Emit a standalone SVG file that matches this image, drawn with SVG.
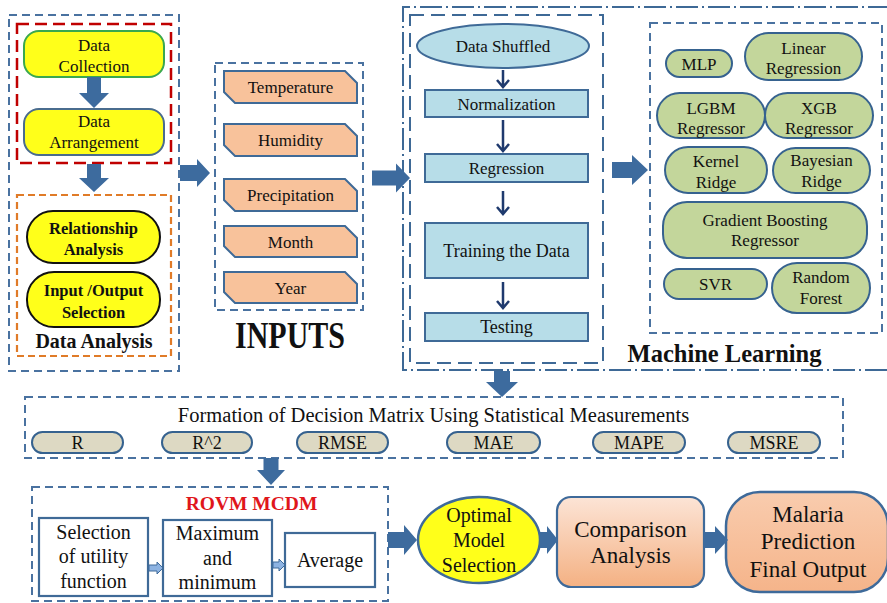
<svg xmlns="http://www.w3.org/2000/svg" width="887" height="603" viewBox="0 0 887 603" font-family="'Liberation Serif', 'Times New Roman', 'DejaVu Serif', serif">
  <defs>
    <linearGradient id="peach" x1="0" y1="0" x2="0" y2="1">
      <stop offset="0" stop-color="#FCE4D6"/>
      <stop offset="1" stop-color="#F4B183"/>
    </linearGradient>
    <linearGradient id="peach2" x1="0" y1="0" x2="0" y2="1">
      <stop offset="0" stop-color="#F9CCAE"/>
      <stop offset="1" stop-color="#F5B48A"/>
    </linearGradient>
  </defs>
  <style>
    text { font-family: 'Liberation Serif', 'Times New Roman', 'DejaVu Serif', serif; fill: #111; text-anchor: middle; }
    .dash-blue { fill: none; stroke: #4A72A0; stroke-width: 2; stroke-dasharray: 8 5; }
    .dash-red { fill: none; stroke: #C00000; stroke-width: 2.5; stroke-dasharray: 12 6; }
    .dash-orange { fill: none; stroke: #E07B28; stroke-width: 2.2; stroke-dasharray: 7 4; }
    .dashdot { fill: none; stroke: #3E6996; stroke-width: 2; stroke-dasharray: 22 4 2 4; }
    .dash-long { fill: none; stroke: #3E6996; stroke-width: 2; stroke-dasharray: 14 7; }
    .yellow { fill: #FFFF1A; stroke-width: 2; }
    .input { fill: #F8C29B; stroke: #3F6A97; stroke-width: 2; }
    .proc { fill: #B7DDE8; stroke: #3F6A97; stroke-width: 2; }
    .ml { fill: #C3D69B; stroke: #36628F; stroke-width: 2; }
    .metric { fill: #DDD9C3; stroke: #36628F; stroke-width: 2; }
    .step { fill: #FFFFFF; stroke: #3F6A97; stroke-width: 2.2; }
    .block { fill: #3D6B9E; }
    .small { fill: #8DB3E2; stroke: #3E6A9A; stroke-width: 1; }
    .thin { fill: none; stroke: #1F3A6E; stroke-width: 2.5; }
    .t17 { font-size: 17px; }
    .t18 { font-size: 18px; }
    .t20 { font-size: 20px; }
    .t23 { font-size: 23px; }
    .bold { font-weight: bold; }
  </style>

  <!-- Data preparation panel -->
  <g id="data-panel">
    <rect class="dash-blue" x="9" y="15" width="170" height="356"/>
    <rect class="dash-red" x="17" y="24" width="154" height="139"/>
    <rect class="dash-orange" x="17" y="195" width="154" height="161"/>
  </g>
  <g id="data-collection">
    <rect class="yellow" x="24" y="31" width="140" height="46" rx="15" stroke="#3AA84E"/>
    <text class="t17" x="94" y="51">Data</text>
    <text class="t17" x="94" y="72">Collection</text>
  </g>
  <g id="data-arrangement">
    <rect class="yellow" x="24" y="109" width="140" height="46" rx="15" stroke="#4A6C8E"/>
    <text class="t17" x="94" y="127">Data</text>
    <text class="t17" x="94" y="148">Arrangement</text>
  </g>
  <g id="relationship-analysis">
    <rect class="yellow" x="27" y="211" width="133" height="52" rx="26" stroke="#111"/>
    <text class="bold" font-size="16.5" x="93.5" y="234">Relationship</text>
    <text class="bold" font-size="16.5" x="93.5" y="255">Analysis</text>
  </g>
  <g id="io-selection">
    <rect class="yellow" x="27" y="272" width="133" height="55" rx="27" stroke="#111"/>
    <text class="bold" font-size="16.5" x="93.5" y="296">Input /Output</text>
    <text class="bold" font-size="16.5" x="93.5" y="318">Selection</text>
  </g>
  <text class="bold" font-size="20" x="94" y="348">Data Analysis</text>

  <!-- Inputs panel -->
  <g id="inputs">
    <rect class="dash-blue" x="215" y="63" width="148" height="247"/>
    <path class="input" d="M224,71 H345 L357,83 V103 H235 L224,92 Z"/>
    <text class="t17" x="290.5" y="93">Temperature</text>
    <path class="input" d="M224,124 H345 L357,136 V156 H235 L224,145 Z"/>
    <text class="t17" x="290.5" y="146">Humidity</text>
    <path class="input" d="M224,179 H345 L357,191 V211 H235 L224,200 Z"/>
    <text class="t17" x="290.5" y="201">Precipitation</text>
    <path class="input" d="M224,226 H345 L357,238 V257 H235 L224,246 Z"/>
    <text class="t17" x="290.5" y="248">Month</text>
    <path class="input" d="M224,272 H345 L357,284 V303 H235 L224,292 Z"/>
    <text class="t17" x="290.5" y="294">Year</text>
    <text class="bold" font-size="37" x="290" y="348" textLength="110" lengthAdjust="spacingAndGlyphs">INPUTS</text>
  </g>

  <!-- Machine learning stage -->
  <g id="ml-stage">
    <path class="dashdot" d="M890,7 H403 V370 H890"/>
    <rect class="dash-long" x="410" y="15" width="193" height="348"/>
    <rect class="dash-blue" x="650" y="23" width="232" height="310"/>
    <text class="bold" font-size="24.5" x="724.5" y="362">Machine Learning</text>
  </g>
  <g id="data-shuffled">
    <ellipse class="proc" cx="503" cy="46" rx="86" ry="22"/>
    <text class="t17" x="503" y="52">Data Shuffled</text>
  </g>
  <g id="normalization">
    <rect class="proc" x="425" y="90" width="163" height="27"/>
    <text class="t17" x="506.5" y="109.5">Normalization</text>
  </g>
  <g id="regression">
    <rect class="proc" x="425" y="154" width="163" height="28"/>
    <text class="t17" x="506.5" y="174">Regression</text>
  </g>
  <g id="training">
    <rect class="proc" x="425" y="223" width="163" height="55"/>
    <text class="t18" x="506.5" y="257">Training the Data</text>
  </g>
  <g id="testing">
    <rect class="proc" x="425" y="313" width="163" height="28"/>
    <text class="t18" x="506.5" y="333">Testing</text>
  </g>

  <g id="mlp">
    <rect class="ml" x="666" y="50" width="66" height="27" rx="13.5"/>
    <text class="t17" x="699" y="69.5">MLP</text>
  </g>
  <g id="linear-regression">
    <rect class="ml" x="745" y="33" width="117" height="47" rx="23.5"/>
    <text class="t17" x="803.5" y="54">Linear</text>
    <text class="t17" x="803.5" y="74">Regression</text>
  </g>
  <g id="lgbm">
    <rect class="ml" x="657" y="93" width="108" height="45" rx="22.5"/>
    <text class="t17" x="711" y="114">LGBM</text>
    <text class="t17" x="711" y="134">Regressor</text>
  </g>
  <g id="xgb">
    <rect class="ml" x="765" y="93" width="108" height="45" rx="22.5"/>
    <text class="t17" x="819" y="114">XGB</text>
    <text class="t17" x="819" y="134">Regressor</text>
  </g>
  <g id="kernel-ridge">
    <rect class="ml" x="665" y="147" width="102" height="46" rx="23"/>
    <text class="t17" x="716" y="167">Kernel</text>
    <text class="t17" x="716" y="188">Ridge</text>
  </g>
  <g id="bayesian-ridge">
    <rect class="ml" x="773" y="148" width="97" height="45" rx="22.5"/>
    <text class="t17" x="821.5" y="166">Bayesian</text>
    <text class="t17" x="821.5" y="187">Ridge</text>
  </g>
  <g id="gradient-boosting">
    <rect class="ml" x="663" y="202" width="204" height="56" rx="24"/>
    <text class="t17" x="765" y="226">Gradient Boosting</text>
    <text class="t17" x="765" y="246">Regressor</text>
  </g>
  <g id="svr">
    <rect class="ml" x="664" y="269" width="103" height="30" rx="15"/>
    <text class="t17" x="715.5" y="290">SVR</text>
  </g>
  <g id="random-forest">
    <rect class="ml" x="772" y="263" width="98" height="50" rx="25"/>
    <text class="t17" x="821" y="283">Random</text>
    <text class="t17" x="821" y="304">Forest</text>
  </g>

  <!-- Decision matrix -->
  <g id="decision-matrix">
    <rect class="dash-blue" x="25" y="397" width="818" height="61"/>
    <text font-size="20.5" x="433.5" y="422">Formation of Decision Matrix Using Statistical Measurements</text>
  </g>
  <g id="metric-r">
    <rect class="metric" x="32" y="432" width="91" height="21" rx="10.5"/>
    <text class="t18" x="77.5" y="449">R</text>
  </g>
  <g id="metric-r2">
    <rect class="metric" x="162" y="432" width="90" height="21" rx="10.5"/>
    <text class="t18" x="207" y="449">R^2</text>
  </g>
  <g id="metric-rmse">
    <rect class="metric" x="297" y="432" width="91" height="21" rx="10.5"/>
    <text class="t18" x="342.5" y="449">RMSE</text>
  </g>
  <g id="metric-mae">
    <rect class="metric" x="447" y="432" width="93" height="21" rx="10.5"/>
    <text class="t18" x="493.5" y="449">MAE</text>
  </g>
  <g id="metric-mape">
    <rect class="metric" x="593" y="432" width="92" height="21" rx="10.5"/>
    <text class="t18" x="639" y="449">MAPE</text>
  </g>
  <g id="metric-msre">
    <rect class="metric" x="728" y="432" width="92" height="21" rx="10.5"/>
    <text class="t18" x="774" y="449">MSRE</text>
  </g>

  <!-- ROVM MCDM -->
  <g id="rovm">
    <rect class="dash-blue" x="32" y="487" width="356" height="114"/>
    <text class="bold" font-size="19.5" x="251.5" y="510" style="fill:#E0161B">ROVM MCDM</text>
  </g>
  <g id="utility-function">
    <rect class="step" x="39" y="518" width="109" height="78"/>
    <text class="t20" x="93.5" y="539">Selection</text>
    <text class="t20" x="93.5" y="563">of utility</text>
    <text class="t20" x="93.5" y="588">function</text>
  </g>
  <g id="max-min">
    <rect class="step" x="163" y="520" width="109" height="76"/>
    <text class="t20" x="217.5" y="540">Maximum</text>
    <text class="t20" x="217.5" y="565">and</text>
    <text class="t20" x="217.5" y="589">minimum</text>
  </g>
  <g id="average">
    <rect class="step" x="285" y="533" width="90" height="54"/>
    <text class="t20" x="330" y="567">Average</text>
  </g>

  <g id="optimal-model">
    <ellipse cx="479" cy="540" rx="61" ry="43" fill="#FFFF1A" stroke="#3E6A9A" stroke-width="2.5"/>
    <text class="t20" x="479" y="522">Optimal</text>
    <text class="t20" x="479" y="547">Model</text>
    <text class="t20" x="479" y="572">Selection</text>
  </g>
  <g id="comparison">
    <rect x="557" y="497" width="147" height="90" rx="14" fill="url(#peach)" stroke="#3E6A9A" stroke-width="2.2"/>
    <text class="t23" x="630.5" y="537">Comparison</text>
    <text class="t23" x="630.5" y="563">Analysis</text>
  </g>
  <g id="final-output">
    <rect x="726" y="492" width="162" height="100" rx="34" fill="url(#peach2)" stroke="#3E6A9A" stroke-width="2.5"/>
    <text class="t23" x="808" y="522">Malaria</text>
    <text class="t23" x="808" y="549">Prediction</text>
    <text class="t23" x="808" y="577">Final Output</text>
  </g>

  <!-- Connectors -->
  <g id="connectors">
    <path class="block" d="M87,77 H101 V93 H109 L94,108 L79,93 H87 Z"/>
    <path class="block" d="M87,164 H101 V178 H109 L94,192 L79,178 H87 Z"/>
    <path class="block" d="M180,165 H197 V159 L210,173 L197,187 V181 H180 Z"/>
    <path class="block" d="M372,170.5 H396 V163.5 L410,178 L396,192.5 V185.5 H372 Z"/>
    <path class="block" d="M612,162 H632 V155 L648,170 L632,185 V178 H612 Z"/>
    <path class="block" d="M494,371 H510 V382 H518 L502,397 L486,382 H494 Z"/>
    <path class="block" d="M263.5,458 H278.5 V470 H285 L271,485 L257,470 H263.5 Z"/>
    <path class="block" d="M388,532 H404 V525 L417,540 L404,555 V548 H388 Z"/>
    <path class="block" d="M540,532 H547 V526 L558,540 L547,554 V548 H540 Z"/>
    <path class="block" d="M704,532 H715 V526 L728,540 L715,554 V548 H704 Z"/>

    <path class="thin" d="M503,70 V87 M497,80 L503,87 L509,80"/>
    <path class="thin" d="M503,120 V151 M497,144 L503,151 L509,144"/>
    <path class="thin" d="M503,191 V214 M497,207 L503,214 L509,207"/>
    <path class="thin" d="M503,282 V308 M497,301 L503,308 L509,301"/>

    <path class="small" d="M149,565 H157 V562 L163,568 L157,574 V571 H149 Z"/>
    <path class="small" d="M273,562 H279 V559 L285,565 L279,571 V568 H273 Z"/>
  </g>
</svg>
